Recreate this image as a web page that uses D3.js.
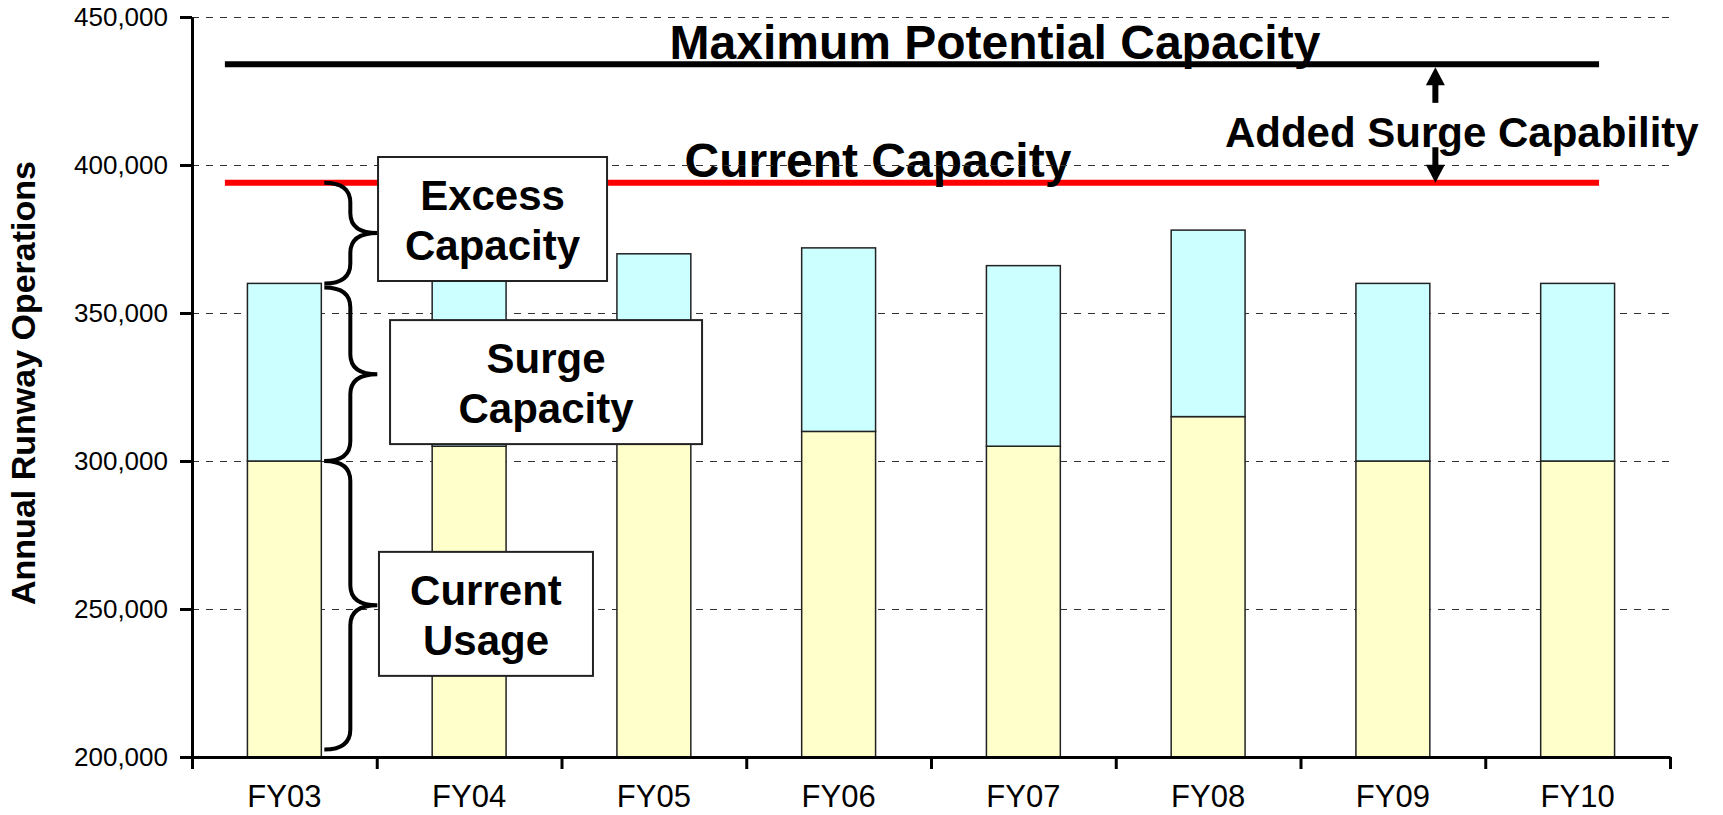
<!DOCTYPE html>
<html>
<head>
<meta charset="utf-8">
<script src="https://cdn.jsdelivr.net/npm/d3@7"></script>
<style>
    body { margin: 0; background: #fff; }
    svg { display: block; font-family: 'Liberation Sans', Arial, sans-serif; }
</style>
</head>
<body>
<div id="chart"></div>
<script>
const categories = ['FY03', 'FY04', 'FY05', 'FY06', 'FY07', 'FY08', 'FY09', 'FY10'];
const currentUsage = [300000, 305000, 308000, 310000, 305000, 315000, 300000, 300000];
const barTops = [360000, 362000, 370000, 372000, 366000, 378000, 360000, 360000];
const yTicks = [200000, 250000, 300000, 350000, 400000, 450000];
const currentCapacity = 394000;
const maxCapacity = 434000;
const noteLabels = [['Excess', 'Capacity'], ['Surge', 'Capacity'], ['Current', 'Usage']];

const margin = { right: 53, top: 17, left: 192, bottom: 58 };
const width = 1723 - margin.right - margin.left;
const height = 815 - margin.top - margin.bottom;

var svg = d3
    .select('#chart')
    .append('svg')
    .attr('width', width + margin.right + margin.left)
    .attr('height', height + margin.top + margin.bottom);

var g = svg.append('g').attr('transform', `translate(${margin.left},${margin.top})`);

var x = d3.scaleBand().domain(categories).range([0, width]).paddingInner(0.6).paddingOuter(0.3);
// position in "category units", for things that sit between bars
var xi = d3.scaleLinear().domain([0, categories.length]).range([0, width]);
var y = d3.scaleLinear().domain([200000, 450000]).range([height, 0]);

// capacity lines
g.append('line')
    .attr('x1', xi(0.178))
    .attr('x2', xi(7.616))
    .attr('y1', y(maxCapacity))
    .attr('y2', y(maxCapacity))
    .attr('stroke', '#000')
    .attr('stroke-width', 6);

g.append('line')
    .attr('x1', xi(0.178))
    .attr('x2', xi(7.616))
    .attr('y1', y(currentCapacity))
    .attr('y2', y(currentCapacity))
    .attr('stroke', '#ff0000')
    .attr('stroke-width', 6);

g.append('text')
    .attr('x', xi(4.346))
    .attr('y', y(maxCapacity) - 5)
    .attr('text-anchor', 'middle')
    .attr('font-size', 48)
    .attr('font-weight', 'bold')
    .text('Maximum Potential Capacity');

g.append('text')
    .attr('x', xi(3.713))
    .attr('y', y(currentCapacity) - 6)
    .attr('text-anchor', 'middle')
    .attr('font-size', 48)
    .attr('font-weight', 'bold')
    .text('Current Capacity');

// dashed grid
g.selectAll('.grid')
    .data(yTicks.slice(1))
    .enter()
    .append('line')
    .attr('class', 'grid')
    .attr('x1', 0)
    .attr('x2', width)
    .attr('y1', d => Math.round(y(d)) + 0.5)
    .attr('y2', d => Math.round(y(d)) + 0.5)
    .attr('stroke', '#333')
    .attr('stroke-width', 1)
    .attr('stroke-dasharray', '7,7');

// stacked bars
var bars = g
    .selectAll('.bar')
    .data(categories)
    .enter()
    .append('g')
    .attr('class', 'bar');

bars.append('rect')
    .attr('x', d => x(d))
    .attr('width', x.bandwidth())
    .attr('y', (d, i) => y(currentUsage[i]))
    .attr('height', (d, i) => y(200000) - y(currentUsage[i]))
    .attr('fill', '#ffffcc')
    .attr('stroke', '#222')
    .attr('stroke-width', 1.5);

bars.append('rect')
    .attr('x', d => x(d))
    .attr('width', x.bandwidth())
    .attr('y', (d, i) => y(barTops[i]))
    .attr('height', (d, i) => y(currentUsage[i]) - y(barTops[i]))
    .attr('fill', '#ccffff')
    .attr('stroke', '#222')
    .attr('stroke-width', 1.5);

// axes
var yAxis = g
    .append('g')
    .call(d3.axisLeft(y).tickValues(yTicks).tickSize(12).tickSizeOuter(0).tickPadding(12).tickFormat(d3.format(',')));
yAxis.selectAll('path, line').attr('stroke', '#000').attr('stroke-width', 3);
yAxis.selectAll('text').attr('font-size', 26).attr('fill', '#000').attr('font-family', null);

var xAxis = g
    .append('g')
    .attr('transform', `translate(0,${height})`)
    .call(d3.axisBottom(xi).tickValues(d3.range(categories.length + 1)).tickSize(12).tickSizeOuter(0).tickFormat(''));
xAxis.selectAll('path, line').attr('stroke', '#000').attr('stroke-width', 3);

g.selectAll('.xlabel')
    .data(categories)
    .enter()
    .append('text')
    .attr('class', 'xlabel')
    .attr('x', d => x(d) + x.bandwidth() / 2)
    .attr('y', height + 50)
    .attr('text-anchor', 'middle')
    .attr('font-size', 31)
    .text(d => d);

svg.append('text')
    .attr('transform', 'translate(35,383) rotate(-90)')
    .attr('text-anchor', 'middle')
    .attr('font-size', 34)
    .attr('font-weight', 'bold')
    .text('Annual Runway Operations');

// braces next to the first bar
const brace = (x0, yTop, yBot) => {
    const xs = x0 + 26;
    const xt = x0 + 53;
    const ym = (yTop + yBot) / 2;
    const r = Math.min(20, (yBot - yTop) / 4);
    return `M${x0},${yTop} Q${xs},${yTop} ${xs},${yTop + r} L${xs},${ym - r} Q${xs},${ym} ${xt},${ym}` +
        ` Q${xs},${ym} ${xs},${ym + r} L${xs},${yBot - r} Q${xs},${yBot} ${x0},${yBot}`;
};

var braceX = x(categories[0]) + x.bandwidth() + 3;
var braceRanges = [
    [currentCapacity, barTops[0]],
    [barTops[0], currentUsage[0]],
    [currentUsage[0], 202500]
];
g.selectAll('.brace')
    .data(braceRanges)
    .enter()
    .append('path')
    .attr('class', 'brace')
    .attr('d', d => brace(braceX, y(d[0]) + (d[0] === barTops[0] ? 4 : 0), y(d[1])))
    .attr('fill', 'none')
    .attr('stroke', '#000')
    .attr('stroke-width', 4);

// label boxes
var boxes = [
    { at: 1.007, top: 402700, w: 229, h: 124 },
    { at: 1.072, top: 347600, w: 312, h: 124 },
    { at: 1.012, top: 269300, w: 214, h: 124 }
];
var notes = g
    .selectAll('.note')
    .data(boxes)
    .enter()
    .append('g')
    .attr('class', 'note')
    .attr('transform', d => `translate(${xi(d.at)},${y(d.top)})`);

notes.append('rect')
    .attr('width', d => d.w)
    .attr('height', d => d.h)
    .attr('fill', '#fff')
    .attr('stroke', '#222')
    .attr('stroke-width', 2);

notes.each(function (d, i) {
    d3.select(this)
        .selectAll('text')
        .data(noteLabels[i])
        .enter()
        .append('text')
        .attr('x', d.w / 2)
        .attr('y', (t, j) => 53 + j * 50)
        .attr('text-anchor', 'middle')
        .attr('font-size', 42)
        .attr('font-weight', 'bold')
        .text(t => t);
});

// added surge arrows
var ax = xi(6.73);
g.append('line')
    .attr('x1', ax).attr('x2', ax)
    .attr('y1', y(maxCapacity) + 20).attr('y2', y(421000))
    .attr('stroke', '#000').attr('stroke-width', 6);
g.append('path')
    .attr('d', `M${ax},${y(maxCapacity) + 3} L${ax - 9.5},${y(maxCapacity) + 21} L${ax + 9.5},${y(maxCapacity) + 21} Z`)
    .attr('fill', '#000');
g.append('line')
    .attr('x1', ax).attr('x2', ax)
    .attr('y1', y(406000)).attr('y2', y(currentCapacity) - 17)
    .attr('stroke', '#000').attr('stroke-width', 6);
g.append('path')
    .attr('d', `M${ax},${y(currentCapacity)} L${ax - 9.5},${y(currentCapacity) - 18} L${ax + 9.5},${y(currentCapacity) - 18} Z`)
    .attr('fill', '#000');

g.append('text')
    .attr('x', xi(5.591))
    .attr('y', y(406000))
    .attr('font-size', 42)
    .attr('font-weight', 'bold')
    .text('Added Surge Capability');
</script>
</body>
</html>
